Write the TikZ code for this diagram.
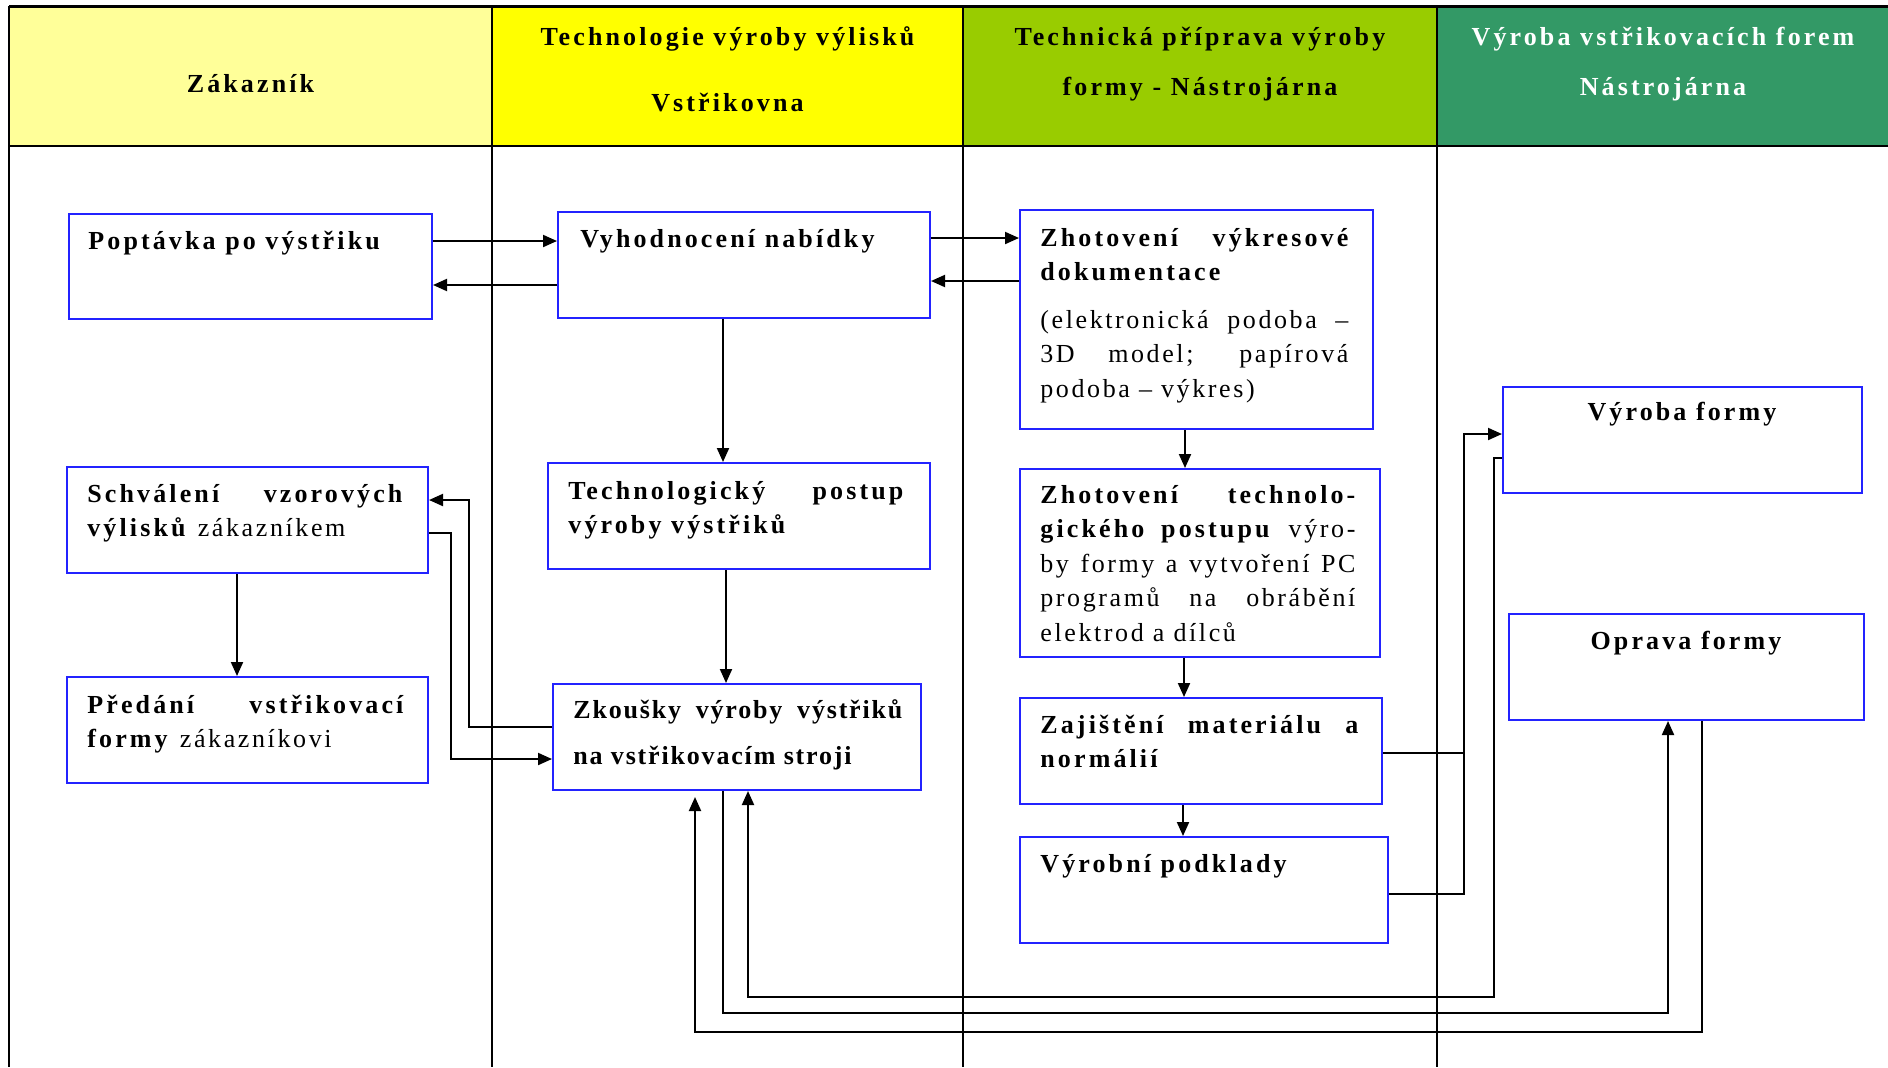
\documentclass[tikz,border=0pt]{standalone}
\usepackage{fontspec}
\setmainfont{Liberation Serif}[LetterSpace=10, BoldFeatures={LetterSpace=12}]
\newfontfamily\tightserif{Liberation Serif}[LetterSpace=7, BoldFeatures={LetterSpace=7}]
\usetikzlibrary{arrows.meta,fit}

\definecolor{hdrA}{HTML}{FFFF99}
\definecolor{hdrB}{HTML}{FFFF00}
\definecolor{hdrC}{HTML}{99CC00}
\definecolor{hdrD}{HTML}{339966}
\definecolor{boxblue}{RGB}{35,35,255}

\tikzset{
  box/.style={draw=boxblue, line width=1pt, inner sep=0pt, fill=white},
  txt/.style={inner sep=0pt, anchor=base west, font=\fontsize{13pt}{17.25pt}\selectfont},
  hdr/.style={inner sep=0pt, anchor=base, font=\fontsize{13pt}{17.25pt}\selectfont\bfseries},
  link/.style={line width=1pt, -{Triangle[length=7pt,width=6pt]}},
  plain/.style={line width=1pt},
  lane/.style={line width=0.75pt},
}

\newcommand{\jline}[2]{\makebox[#1][s]{#2}}

\begin{document}
\begin{tikzpicture}[x=0.5pt, y=-0.5pt]
  \useasboundingbox (0,0) rectangle (1888,1067);
  \fill[white] (0,0) rectangle (1888,1067);

  % lane headers
  \fill[hdrA] (9,6) rectangle (492,146);
  \fill[hdrB] (492,6) rectangle (963,146);
  \fill[hdrC] (963,6) rectangle (1437,146);
  \fill[hdrD] (1437,6) rectangle (1888,146);
  \draw[line width=1.5pt] (9,6) -- (1888,6);
  \draw[line width=1pt] (9,146) -- (1888,146);
  \foreach \lx in {9,492,963,1437}
    \draw[lane] (\lx,6) -- (\lx,1067);

  \node[hdr] (h1) at (250.5,92) {Zákazník};
  \node[hdr] (h2a) at (727.5,45) {Technologie výroby výlisků};
  \node[hdr] (h2b) at (727.5,111) {Vstřikovna};
  \node[hdr] (h3a) at (1200,45) {Technická příprava výroby};
  \node[hdr] (h3b) at (1200,95) {formy - Nástrojárna};
  \node[hdr, text=white] (h4a) at (1663,45) {Výroba vstřikovacích forem};
  \node[hdr, text=white] (h4b) at (1663,95) {Nástrojárna};

  % process boxes
  \node[box, fit={(69,214)(432,319)}] (poptavka) {};
  \node[box, fit={(558,212)(930,318)}] (vyhod) {};
  \node[box, fit={(1020,210)(1373,429)}] (vykres) {};
  \node[box, fit={(548,463)(930,569)}] (techpost) {};
  \node[box, fit={(67,467)(428,573)}] (schval) {};
  \node[box, fit={(67,677)(428,783)}] (predani) {};
  \node[box, fit={(553,684)(921,790)}] (zkousky) {};
  \node[box, fit={(1020,469)(1380,657)}] (techform) {};
  \node[box, fit={(1020,698)(1382,804)}] (zajist) {};
  \node[box, fit={(1020,837)(1388,943)}] (podklady) {};
  \node[box, fit={(1503,387)(1862,493)}] (vyrobaf) {};
  \node[box, fit={(1509,614)(1864,720)}] (oprava) {};

  % connectors
  \draw[link] (poptavka.east |- 0,241) -- (vyhod.west |- 0,241);
  \draw[link] (vyhod.west |- 0,285) -- (poptavka.east |- 0,285);
  \draw[link] (vyhod.east |- 0,238) -- (vykres.west |- 0,238);
  \draw[link] (vykres.west |- 0,281) -- (vyhod.east |- 0,281);
  \draw[link] (vyhod.south -| 723,0) -- (techpost.north -| 723,0);
  \draw[link] (techpost.south -| 726,0) -- (zkousky.north -| 726,0);
  \draw[link] (schval.south -| 237,0) -- (predani.north -| 237,0);
  \draw[link] (zkousky.west |- 0,727) -| (469,500) -- (schval.east |- 0,500);
  \draw[link] (schval.east |- 0,533) -| (451,759) -- (zkousky.west |- 0,759);
  \draw[link] (vykres.south -| 1185,0) -- (techform.north -| 1185,0);
  \draw[link] (techform.south -| 1184,0) -- (zajist.north -| 1184,0);
  \draw[link] (zajist.south -| 1183,0) -- (podklady.north -| 1183,0);
  \draw[plain] (zajist.east |- 0,753) -- (1464,753);
  \draw[link] (podklady.east |- 0,894) -| (1464,434) -- (vyrobaf.west |- 0,434);
  \draw[link] (vyrobaf.west |- 0,458) -| (1494,997) -| (zkousky.south -| 748,0);
  \draw[link] (zkousky.south -| 723,0) |- (1668,1013) -- (oprava.south -| 1668,0);
  \draw[link, shorten >=3pt] (oprava.south -| 1702,0) |- (695,1032) -- (zkousky.south -| 695,0);

  % box texts
  \node[txt] (t-poptavka) at (88,249) {\textbf{Poptávka po výstřiku}};
  \node[txt] (t-vyhod) at (580,247) {\textbf{Vyhodnocení nabídky}};
  \node[txt] (t-vykres) at (1040,246) {\parbox[t]{154pt}{%
      \jline{154pt}{\bfseries Zhotovení výkresové}\\
      \textbf{dokumentace}\\[6.5pt]
      \jline{154pt}{(elektronická podoba –}\\
      \jline{154pt}{3D model; papírová}\\
      podoba – výkres)}};
  \node[txt] (t-techpost) at (568,499) {\parbox[t]{167.5pt}{%
      \jline{167.5pt}{\bfseries Technologický postup}\\
      \textbf{výroby výstřiků}}};
  \node[txt] (t-schval) at (87,502) {\parbox[t]{157.5pt}{%
      \jline{157.5pt}{\bfseries Schválení vzorových}\\
      \textbf{výlisků} zákazníkem}};
  \node[txt] (t-predani) at (87,713) {\parbox[t]{158pt}{%
      \jline{158pt}{\bfseries Předání vstřikovací}\\
      \textbf{formy} zákazníkovi}};
  \node[txt] (t-zkousky) at (573,718) {\parbox[t]{164.5pt}{%
      \tightserif\bfseries
      \jline{164.5pt}{Zkoušky výroby výstřiků}\\[6pt]
      na vstřikovacím stroji}};
  \node[txt] (t-techform) at (1040,503) {\parbox[t]{157.5pt}{%
      \jline{157.5pt}{\bfseries Zhotovení technolo-}\\
      \jline{157.5pt}{\textbf{gického postupu} výro-}\\
      \jline{157.5pt}{by formy a vytvoření PC}\\
      \jline{157.5pt}{programů na obrábění}\\
      elektrod a dílců}};
  \node[txt] (t-zajist) at (1040,733) {\parbox[t]{159pt}{%
      \jline{159pt}{\bfseries Zajištění materiálu a}\\
      \textbf{normálií}}};
  \node[txt] (t-podklady) at (1040,872) {\textbf{Výrobní podklady}};
  \node[hdr] (t-vyrobaf) at (1682,420) {Výroba formy};
  \node[hdr] (t-oprava) at (1686,649) {Oprava formy};
\end{tikzpicture}
\end{document}
